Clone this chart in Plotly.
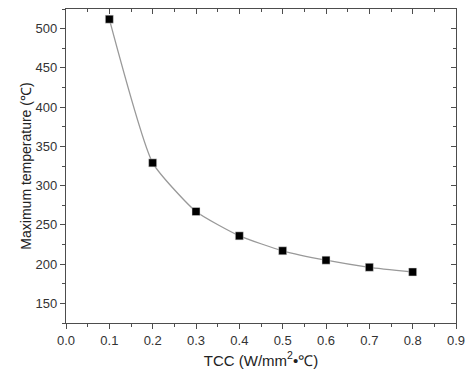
import plotly.graph_objects as go

tcc = [0.1, 0.2, 0.3, 0.4, 0.5, 0.6, 0.7, 0.8]
max_temp = [512, 329, 267, 236, 217, 205, 196, 190]

x_ticks = [0.0, 0.1, 0.2, 0.3, 0.4, 0.5, 0.6, 0.7, 0.8, 0.9]
x_labels = ["0.0", "0.1", "0.2", "0.3", "0.4", "0.5", "0.6", "0.7", "0.8", "0.9"]
y_ticks = [150, 200, 250, 300, 350, 400, 450, 500]

axis_color = "#4d4d4d"
font = "Liberation Sans, Arial, sans-serif"

fig = go.Figure()
fig.add_trace(go.Scatter(
    x=tcc, y=max_temp, mode="lines+markers",
    line=dict(color="#999999", width=1.3, shape="spline", smoothing=0.5),
    marker=dict(symbol="square", size=8, color="black",
                line=dict(color="#dddddd", width=0.5)),
    showlegend=False,
))
fig.add_trace(go.Scatter(x=tcc, y=max_temp, xaxis="x2", yaxis="y2",
                         mode="markers", marker=dict(opacity=0),
                         showlegend=False, hoverinfo="skip"))

common = dict(showline=True, linecolor=axis_color, linewidth=1.3,
              showgrid=False, zeroline=False, tickcolor=axis_color,
              tickwidth=1.2, automargin=False)

fig.update_layout(
    width=466, height=375,
    margin=dict(l=66, r=10, t=9, b=52),
    paper_bgcolor="white", plot_bgcolor="white",
    font=dict(family=font, size=13, color="#333333"),
    xaxis=dict(range=[0, 0.9], tickvals=x_ticks, ticktext=x_labels,
               ticks="outside", ticklen=5,
               minor=dict(dtick=0.05, tick0=0, ticks="outside", ticklen=3,
                          tickcolor=axis_color, tickwidth=1),
               title=dict(text="TCC (W/mm<sup>2</sup>•℃)", standoff=8,
                          font=dict(size=15, color="#222222")),
               **common),
    yaxis=dict(range=[125, 525], tickvals=y_ticks,
               ticks="outside", ticklen=5,
               minor=dict(dtick=25, tick0=0, ticks="outside", ticklen=3,
                          tickcolor=axis_color, tickwidth=1),
               title=dict(text="Maximum temperature (℃)", standoff=0,
                          font=dict(size=14, color="#222222")),
               **common),
    xaxis2=dict(range=[0, 0.9], overlaying="x", side="top", anchor="y",
                tickvals=x_ticks, showticklabels=False,
                ticks="inside", ticklen=5,
                minor=dict(dtick=0.05, tick0=0, ticks="inside", ticklen=3,
                           tickcolor=axis_color, tickwidth=1),
                **common),
    yaxis2=dict(range=[125, 525], overlaying="y", side="right", anchor="x",
                tickvals=y_ticks, showticklabels=False,
                ticks="inside", ticklen=5,
                minor=dict(dtick=25, tick0=0, ticks="inside", ticklen=3,
                           tickcolor=axis_color, tickwidth=1),
                **common),
)

fig.write_html("out.html", config={"displayModeBar": False},
               post_script="document.body.style.margin='0';document.body.style.overflow='hidden';")
